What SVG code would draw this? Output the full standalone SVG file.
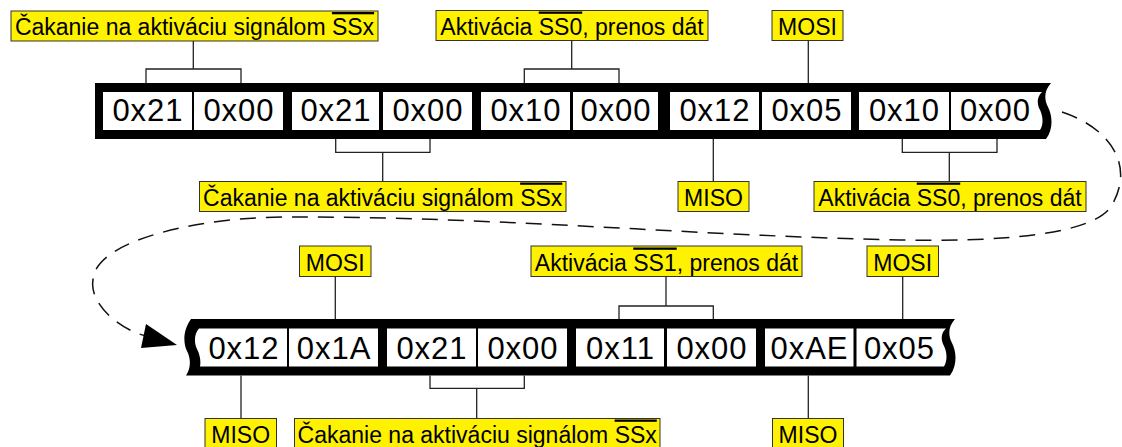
<svg xmlns="http://www.w3.org/2000/svg" width="1122" height="447" viewBox="0 0 1122 447">
<style>
.band{fill:#000}
.cell{fill:#fff}
.val{font-family:"Liberation Sans",Arial,sans-serif;font-size:31px;letter-spacing:1px;text-anchor:middle;fill:#000}
.lbl rect{fill:#fff200;stroke:#333;stroke-width:1}
.lbl text{font-family:"Liberation Sans",Arial,sans-serif;font-size:23px;text-anchor:middle;fill:#000}
.ov{text-decoration:overline}
.wire{fill:none;stroke:#222;stroke-width:1.3}
.flow{fill:none;stroke:#111;stroke-width:1.5;stroke-dasharray:16 10}
</style>

<g id="row1">
<path class="band" d="M95,83 H1051 C1044,91 1044,99 1048,107 C1052,115 1054,128 1046,139 H95 Z"/>
<rect class="cell" x="103" y="92" width="89" height="38"/>
<rect class="cell" x="194" y="92" width="89" height="38"/>
<rect class="cell" x="292" y="92" width="87" height="38"/>
<rect class="cell" x="383" y="92" width="89" height="38"/>
<rect class="cell" x="481" y="92" width="89" height="38"/>
<rect class="cell" x="573" y="92" width="85" height="38"/>
<rect class="cell" x="670" y="92" width="89" height="38"/>
<rect class="cell" x="762" y="92" width="89" height="38"/>
<rect class="cell" x="859" y="92" width="90" height="38"/>
<path class="cell" d="M951,92 H1042 C1037,97 1037,103 1039,108 C1043,115 1044,124 1040,130 H951 Z"/>
<text class="val" x="148" y="121">0x21</text>
<text class="val" x="239" y="121">0x00</text>
<text class="val" x="336" y="121">0x21</text>
<text class="val" x="428" y="121">0x00</text>
<text class="val" x="526" y="121">0x10</text>
<text class="val" x="616" y="121">0x00</text>
<text class="val" x="715" y="121">0x12</text>
<text class="val" x="807" y="121">0x05</text>
<text class="val" x="904.5" y="121">0x10</text>
<text class="val" x="995.5" y="121">0x00</text>
</g>

<g id="row2">
<path class="band" d="M191,319 H955 C948,327 948,335 952,343 C956,351 958,364 950,375.5 H186 C191,368 191,359 187,351 C183,343 183,330 191,319 Z"/>
<path class="cell" d="M199,328.5 H287 V366.5 H200 C201,361 200,355 197,349 C194,343 194,334 199,328.5 Z"/>
<rect class="cell" x="289" y="328.5" width="89" height="38"/>
<rect class="cell" x="387" y="328.5" width="89" height="38"/>
<rect class="cell" x="478" y="328.5" width="89" height="38"/>
<rect class="cell" x="576" y="328.5" width="88" height="38"/>
<rect class="cell" x="667" y="328.5" width="89" height="38"/>
<rect class="cell" x="765" y="328.5" width="88.5" height="38"/>
<path class="cell" d="M856.5,328.5 H946 C941,333 941,339 943,344 C947,351 948,360 944,366.5 H856.5 Z"/>
<text class="val" x="244" y="358.5">0x12</text>
<text class="val" x="334" y="358.5">0x1A</text>
<text class="val" x="432" y="358.5">0x21</text>
<text class="val" x="523" y="358.5">0x00</text>
<text class="val" x="620.5" y="358.5">0x11</text>
<text class="val" x="712" y="358.5">0x00</text>
<text class="val" x="809.5" y="358.5">0xAE</text>
<text class="val" x="899.5" y="358.5">0x05</text>
</g>

<g id="label-wait-1" class="lbl">
<rect x="11" y="11" width="367" height="30"/>
<text x="194.5" y="35">Čakanie na aktiváciu signálom <tspan class="ov">SSx</tspan></text>
</g>
<g id="label-ss0-1" class="lbl">
<rect x="436" y="10.5" width="272" height="30"/>
<text x="572" y="34.5">Aktivácia <tspan class="ov">SS0</tspan>, prenos dát</text>
</g>
<g id="label-mosi-1" class="lbl">
<rect x="772" y="10.5" width="71" height="30"/>
<text x="807.5" y="34.5">MOSI</text>
</g>
<g id="label-wait-2" class="lbl">
<rect x="199.5" y="181.5" width="366.5" height="30"/>
<text x="382.7" y="205.5">Čakanie na aktiváciu signálom <tspan class="ov">SSx</tspan></text>
</g>
<g id="label-miso-1" class="lbl">
<rect x="678" y="181.5" width="71" height="30"/>
<text x="713.5" y="205.5">MISO</text>
</g>
<g id="label-ss0-2" class="lbl">
<rect x="814" y="181.5" width="272" height="30"/>
<text x="950" y="205.5">Aktivácia <tspan class="ov">SS0</tspan>, prenos dát</text>
</g>
<g id="label-mosi-2" class="lbl">
<rect x="299.5" y="246" width="71.5" height="30.5"/>
<text x="335.2" y="270.5">MOSI</text>
</g>
<g id="label-ss1" class="lbl">
<rect x="531" y="246" width="271" height="30.5"/>
<text x="666.5" y="270.5">Aktivácia <tspan class="ov">SS1</tspan>, prenos dát</text>
</g>
<g id="label-mosi-3" class="lbl">
<rect x="867" y="246" width="71.5" height="30.5"/>
<text x="902.7" y="270.5">MOSI</text>
</g>
<g id="label-miso-2" class="lbl">
<rect x="205" y="418.5" width="71.5" height="30"/>
<text x="240.7" y="442.5">MISO</text>
</g>
<g id="label-wait-3" class="lbl">
<rect x="294.5" y="418.5" width="365.5" height="30"/>
<text x="477.2" y="442.5">Čakanie na aktiváciu signálom <tspan class="ov">SSx</tspan></text>
</g>
<g id="label-miso-3" class="lbl">
<rect x="772.5" y="418.5" width="71" height="30"/>
<text x="808" y="442.5">MISO</text>
</g>

<g id="connectors">
<path class="wire" d="M193.3,41 V69 M146,83 V69 H241 V83"/>
<path class="wire" d="M571.7,40.5 V69 M524.3,83 V69 H619 V83"/>
<path class="wire" d="M808.3,40.5 V83"/>
<path class="wire" d="M335.7,139 V152.3 H430 V139 M382.7,152.3 V181.5"/>
<path class="wire" d="M713.3,139 V181.5"/>
<path class="wire" d="M902.3,139 V152.3 H997 V139 M949.3,152.3 V181.5"/>
<path class="wire" d="M335.3,276.5 V319"/>
<path class="wire" d="M666,276.5 V306 M619,319 V306 H713.3 V319"/>
<path class="wire" d="M902.7,276.5 V319"/>
<path class="wire" d="M241,375.5 V418.5"/>
<path class="wire" d="M430,375.5 V388.3 H524.3 V375.5 M476.7,388.3 V418.5"/>
<path class="wire" d="M808.3,375.5 V418.5"/>
<path class="flow" d="M1062,112 C1110,128 1135,165 1112,205 C1095,235 1000,242 900,240 C700,236 500,217 300,217 C210,215 95,238 93,280 C89,303 118,329 146,336"/>
<polygon points="177,345 146,324 141,348" fill="#000"/>
</g>
</svg>
